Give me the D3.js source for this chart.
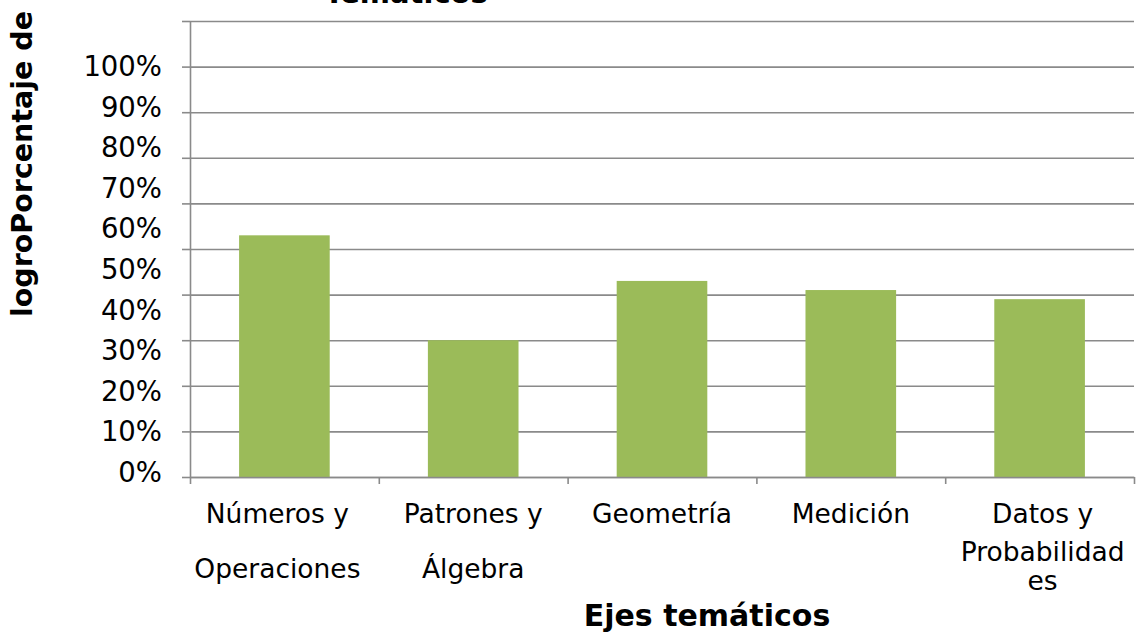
<!DOCTYPE html>
<html>
<head>
<meta charset="utf-8">
<script src="https://cdn.jsdelivr.net/npm/d3@7"></script>
<style>
  body { margin: 0; background: #fff; }
  text { font-family: "DejaVu Sans", sans-serif; fill: #000; }
  .grid line, .axis line, .axis path { stroke: #8a8a8a; stroke-width: 1.6px; }
</style>
</head>
<body>
<div id="viz"></div>
<script>
// chart values
var categories = ["Números y Operaciones", "Patrones y Álgebra", "Geometría", "Medición", "Datos y Probabilidades"];
var tickLines = [["Números y", "Operaciones"], ["Patrones y", "Álgebra"], ["Geometría"], ["Medición"], ["Datos y", "Probabilidad", "es"]];
var logro = [0.53, 0.30, 0.43, 0.41, 0.39];
var yTicks = [0, 0.1, 0.2, 0.3, 0.4, 0.5, 0.6, 0.7, 0.8, 0.9, 1.0];
var yTickLabels = ["0%", "10%", "20%", "30%", "40%", "50%", "60%", "70%", "80%", "90%", "100%"];

var screenWidth = 1136,
    screenHeight = 637,
    plot = {"left": 190, "right": 1134, "top": 21, "bottom": 477};

var svg = d3.select("div#viz")
            .append("svg")
            .attr("width", screenWidth)
            .attr("height", screenHeight);

var xScale = d3.scaleBand()
               .domain(categories)
               .range([plot.left, plot.right])
               .paddingInner(0.52)
               .paddingOuter(0.26),
    xEdges = d3.scaleLinear().domain([0, categories.length]).range([plot.left, plot.right]),
    yScale = d3.scaleLinear().domain([0, 1]).range([plot.bottom, plot.top]),
    // the % labels sit a bit tighter than the gridlines in the original
    yLabelScale = d3.scaleLinear().domain([0, 1]).range([472, 66]);

// gridlines
svg.append("g")
   .attr("class", "grid")
   .attr("transform", "translate(" + plot.left + ",0)")
   .call(d3.axisLeft(yScale).tickValues(yTicks).tickSize(-(plot.right - plot.left)).tickFormat(""))
   .call(function(g) { g.select(".domain").remove(); });

// bars
svg.selectAll("rect.bar")
   .data(logro)
   .enter()
   .append("rect")
   .attr("class", "bar")
   .attr("x", function(d, i) { return xScale(categories[i]); })
   .attr("width", xScale.bandwidth())
   .attr("y", function(d) { return yScale(d); })
   .attr("height", function(d) { return yScale(0) - yScale(d); })
   .attr("fill", "#9bbb59");

// y axis with outside tick marks
svg.append("g")
   .attr("class", "axis")
   .attr("transform", "translate(" + plot.left + ",0)")
   .call(d3.axisLeft(yScale).tickValues(yTicks).tickSize(8).tickSizeOuter(0).tickFormat(""));

svg.append("g")
   .selectAll("text")
   .data(yTicks)
   .enter()
   .append("text")
   .attr("x", 162)
   .attr("y", function(d) { return yLabelScale(d); })
   .attr("dy", "0.36em")
   .style("text-anchor", "end")
   .style("font-size", "27.5px")
   .text(function(d, i) { return yTickLabels[i]; });

// x axis, ticks between categories
svg.append("g")
   .attr("class", "axis")
   .attr("transform", "translate(0," + plot.bottom + ")")
   .call(d3.axisBottom(xEdges).tickValues(d3.range(categories.length + 1)).tickSize(7).tickSizeOuter(0).tickFormat(""));

var lineOffsets = {1: [0], 2: [0, 55], 3: [0, 38, 67]};
var labelShift = [-7, 0, 0, 0, 3];

var xLabels = svg.append("g")
   .selectAll("text")
   .data(categories)
   .enter()
   .append("text")
   .attr("y", 523)
   .style("text-anchor", "middle")
   .style("font-size", "26.5px");

xLabels.each(function(d, i) {
    var lines = tickLines[i],
        offs = lineOffsets[lines.length],
        cx = xScale(d) + xScale.bandwidth() / 2 + labelShift[i];
    d3.select(this).selectAll("tspan")
      .data(lines)
      .enter()
      .append("tspan")
      .attr("x", cx)
      .attr("y", function(t, j) { return 523 + offs[j]; })
      .text(function(t) { return t; });
});

// chart title, only its last line shows at the top edge
svg.append("text")
   .attr("x", 406)
   .attr("y", 3)
   .style("text-anchor", "middle")
   .style("font-size", "29px")
   .style("font-weight", "bold")
   .text("Temáticos");

// axis titles
svg.append("text")
   .attr("transform", "translate(32,164) rotate(-90)")
   .style("text-anchor", "middle")
   .style("font-size", "28.5px")
   .style("font-weight", "bold")
   .text("logroPorcentaje de");

svg.append("text")
   .attr("x", 707)
   .attr("y", 626)
   .style("text-anchor", "middle")
   .style("font-size", "30px")
   .style("font-weight", "bold")
   .text("Ejes temáticos");
</script>
</body>
</html>
